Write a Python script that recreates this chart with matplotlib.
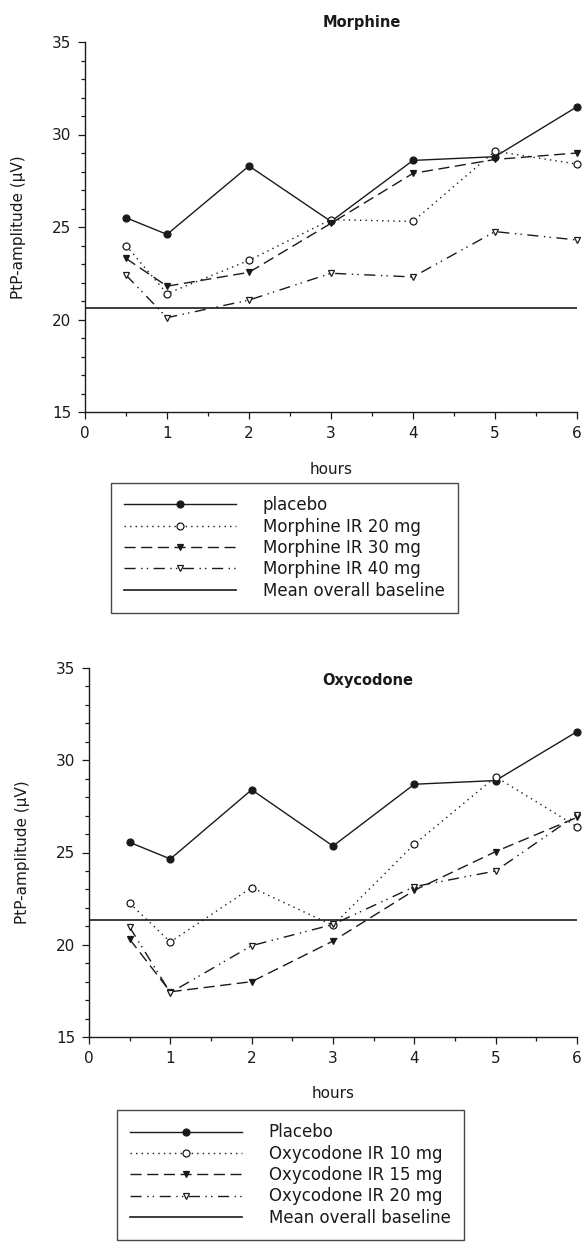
import matplotlib
matplotlib.use("Agg")
import matplotlib.pyplot as plt
from matplotlib.ticker import MultipleLocator

plt.rcParams['font.family'] = ['DejaVu Sans']

hours = [0.5, 1, 2, 3, 4, 5, 6]

# Morphine panel
morph_placebo = [25.5, 24.6, 28.3, 25.3, 28.6, 28.8, 31.5]
morph_20 = [24.0, 21.4, 23.2, 25.4, 25.3, 29.1, 28.4]
morph_30 = [23.3, 21.8, 22.55, 25.2, 27.9, 28.65, 29.0]
morph_40 = [22.4, 20.1, 21.05, 22.5, 22.3, 24.75, 24.3]
morph_baseline = 20.63
morph_labels = ["placebo", "Morphine IR 20 mg", "Morphine IR 30 mg",
                "Morphine IR 40 mg", "Mean overall baseline"]

# Oxycodone panel
oxy_placebo = [25.55, 24.65, 28.4, 25.35, 28.7, 28.9, 31.55]
oxy_10 = [22.25, 20.15, 23.1, 21.05, 25.45, 29.1, 26.4]
oxy_15 = [20.3, 17.45, 18.0, 20.2, 22.95, 25.05, 26.9]
oxy_20 = [20.95, 17.4, 19.95, 21.1, 23.15, 24.0, 27.05]
oxy_baseline = 21.35
oxy_labels = ["Placebo", "Oxycodone IR 10 mg", "Oxycodone IR 15 mg",
              "Oxycodone IR 20 mg", "Mean overall baseline"]

INK = "#1a1a1a"
W, H = 583, 1243


def draw_panel(fig, rect, title, title_xy, series, baseline, labels, hours_y, legend_xy):
    ax = fig.add_axes(rect)
    styles = [
        dict(ls='-', marker='o', mfc=INK),
        dict(ls=(0, (1, 3)), marker='o', mfc='white'),
        dict(ls=(0, (8, 4)), marker='v', mfc=INK),
        dict(ls=(0, (8, 4, 1, 3, 1, 4)), marker='v', mfc='white'),
    ]
    handles = []
    for vals, st in zip(series, styles):
        ln, = ax.plot(hours, vals, color=INK, lw=1.0, ls=st['ls'], marker=st['marker'],
                      ms=5, mfc=st['mfc'], mec=INK, mew=0.9, clip_on=False, zorder=3)
        handles.append(ln)
    bl = ax.axhline(baseline, color=INK, lw=1.2, zorder=2)
    handles.append(bl)

    ax.set_xlim(0, 6)
    ax.set_ylim(15, 35)
    ax.xaxis.set_major_locator(MultipleLocator(1))
    ax.xaxis.set_minor_locator(MultipleLocator(0.5))
    ax.yaxis.set_major_locator(MultipleLocator(5))
    ax.yaxis.set_minor_locator(MultipleLocator(1))
    for s in ['top', 'right']:
        ax.spines[s].set_visible(False)
    for s in ['left', 'bottom']:
        ax.spines[s].set_color(INK)
        ax.spines[s].set_linewidth(1.0)
    ax.tick_params(which='major', direction='out', length=5, width=0.9, colors=INK,
                   labelsize=11, pad=5)
    ax.tick_params(which='minor', direction='out', length=3, width=0.9, colors=INK)
    ax.set_ylabel("PtP-amplitude (\u00b5V)", fontsize=11, color=INK)
    ax.yaxis.set_label_coords(-0.12, 0.5)

    fig.text(title_xy[0] / W, 1 - title_xy[1] / H, title, ha='center', va='center',
             fontsize=10.5, fontweight='bold', color=INK)
    fig.text((rect[0] + rect[2] / 2), 1 - hours_y / H, "hours", ha='center', va='center',
             fontsize=11, color=INK)

    leg = fig.legend(handles, labels, loc='upper left',
                     bbox_to_anchor=(legend_xy[0] / W, 1 - legend_xy[1] / H),
                     fontsize=12, frameon=True, fancybox=False, handlelength=6.7,
                     handletextpad=1.6, labelspacing=0.2, borderpad=0.8,
                     borderaxespad=0)
    leg.get_frame().set_edgecolor(INK)
    leg.get_frame().set_linewidth(1.0)
    for t in leg.get_texts():
        t.set_color(INK)
    return ax


fig = plt.figure(figsize=(W / 100, H / 100), dpi=100)

draw_panel(fig, [85 / W, 1 - 412 / H, 492 / W, 370 / H], "Morphine", (362, 22),
           [morph_placebo, morph_20, morph_30, morph_40], morph_baseline, morph_labels,
           470, (111, 483))
draw_panel(fig, [89 / W, 1 - 1037 / H, 488 / W, 369 / H], "Oxycodone", (368, 681),
           [oxy_placebo, oxy_10, oxy_15, oxy_20], oxy_baseline, oxy_labels,
           1093, (117, 1110))

fig.savefig("out.png", dpi=100)
